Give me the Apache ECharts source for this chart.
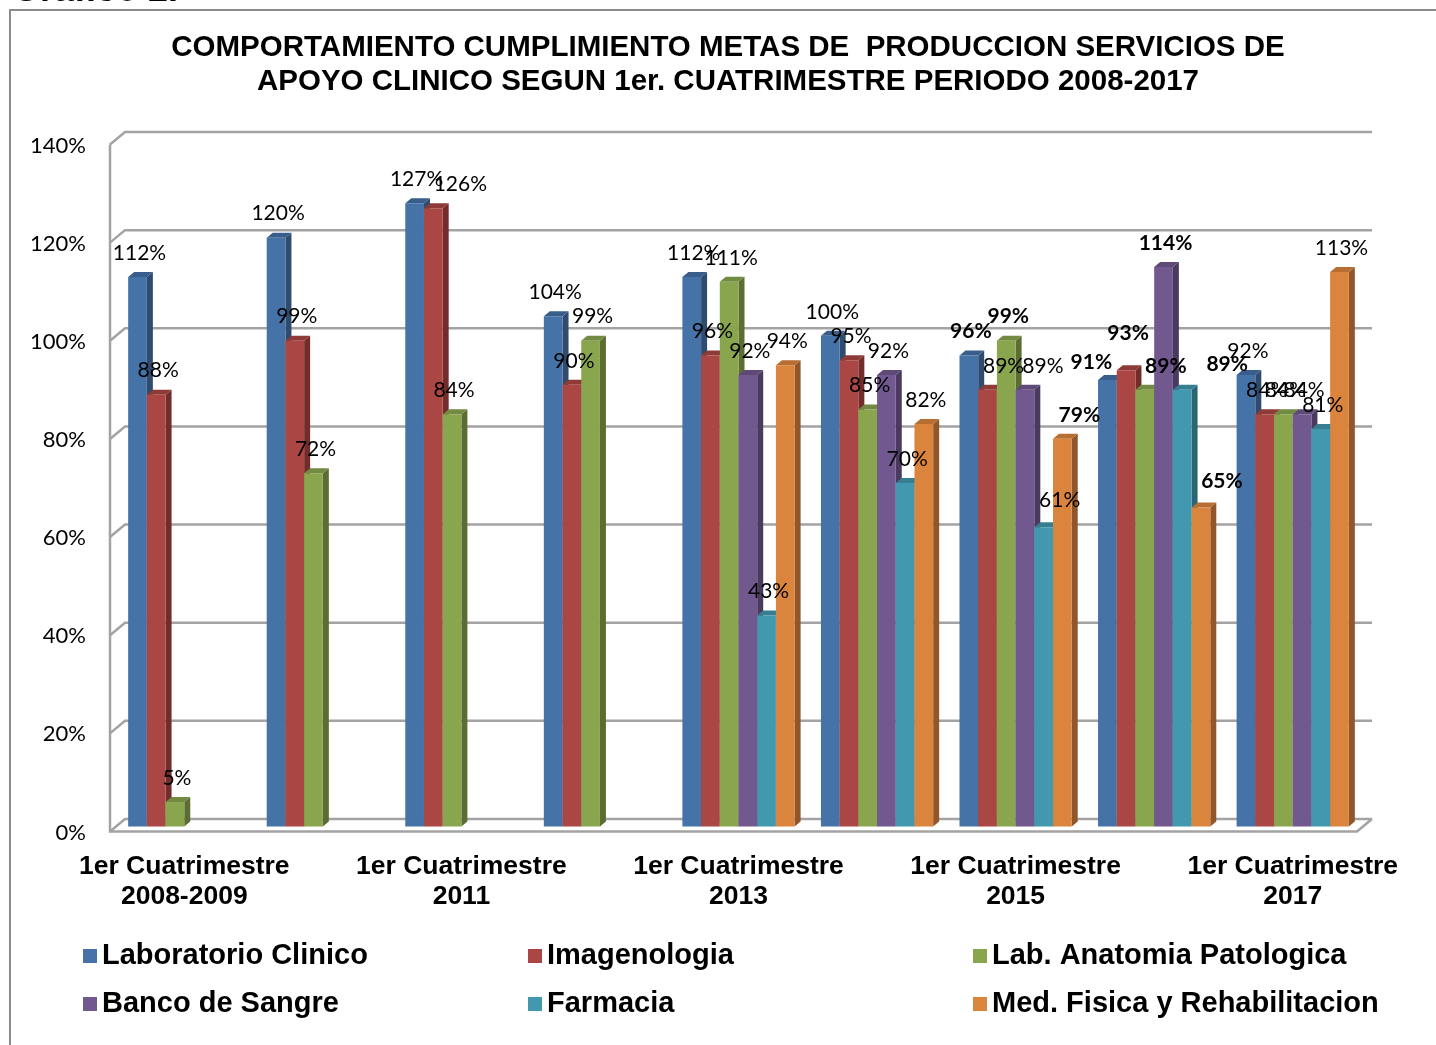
<!DOCTYPE html>
<html>
<head>
<meta charset="utf-8">
<title>Gráfico 2</title>
<script src="https://cdn.jsdelivr.net/npm/echarts@6/dist/echarts.min.js"></script>
<style>
  html, body { margin: 0; padding: 0; background: #fff; }
  #chart { width: 1436px; height: 1045px; }
</style>
</head>
<body>
<div id="chart"></div>
<script>
// datos
var categories = [
  '1er Cuatrimestre\n2008-2009', '1er Cuatrimestre\n2010', '1er Cuatrimestre\n2011',
  '1er Cuatrimestre\n2012', '1er Cuatrimestre\n2013', '1er Cuatrimestre\n2014',
  '1er Cuatrimestre\n2015', '1er Cuatrimestre\n2016', '1er Cuatrimestre\n2017'
];
var laboratorio = [112, 120, 127, 104, 112, 100, 96, 91, 92];
var imagenologia = [88, 99, 126, 90, 96, 95, 89, 93, 84];
var anatomia = [5, 72, 84, 99, 111, 85, 99, 89, 84];
var bancoSangre = [null, null, null, null, 92, 92, 89, 114, 84];
var farmacia = [null, null, null, null, 43, 70, 61, 89, 81];
var medFisica = [null, null, null, null, 94, 82, 79, 65, 113];
var yTicks = [0, 20, 40, 60, 80, 100, 120, 140];

var names = ['Laboratorio Clinico', 'Imagenologia', 'Lab. Anatomia Patologica',
  'Banco de Sangre', 'Farmacia', 'Med. Fisica y Rehabilitacion'];
var values = [laboratorio, imagenologia, anatomia, bancoSangre, farmacia, medFisica];

// colores: frente, lado, tapa
var colors = [
  { front: '#4572A7', side: '#2F4B6E', top: '#395E8B' },
  { front: '#AA4643', side: '#722D2B', top: '#8E3A37' },
  { front: '#89A54E', side: '#5B6D33', top: '#728A41' },
  { front: '#71588F', side: '#4A3A5E', top: '#5E4977' },
  { front: '#4198AF', side: '#2B6574', top: '#367F92' },
  { front: '#DB843D', side: '#91572A', top: '#B76E33' }
];

// etiquetas movidas a mano (serie-categoria): [dx, dy]
var labelNudge = {
  '1-2': [25, 0],
  '1-6': [14, 0], '3-6': [16, 0], '4-6': [14, -3], '5-6': [15, 0],
  '0-7': [-18, 6], '1-7': [0, -13], '2-7': [19, 0], '4-7': [43, -2], '5-7': [19, -2]
};
var boldLabels = ['0-6', '2-6', '5-6', '0-7', '1-7', '2-7', '3-7', '4-7', '5-7'];

var GAP = 0.19;
var DX = 6, DY = 5;

function barRenderer(si) {
  return function (params, api) {
    var ci = api.value(0), v = api.value(1);
    var base = api.coord([ci, 0]);
    var top = api.coord([ci, v]);
    var band = api.size([1, 0])[0];
    var bw = band * (1 - GAP) / 6;
    var x0 = base[0] - band * (1 - GAP) / 2 + si * bw;
    var x1 = x0 + bw;
    var y0 = base[1], y1 = top[1];
    var c = colors[si];
    var key = si + '-' + ci;
    var nudge = labelNudge[key] || [0, 0];
    var bold = boldLabels.indexOf(key) >= 0;
    return {
      type: 'group',
      children: [
        { type: 'polygon', shape: { points: [[x1, y1], [x1 + DX, y1 - DY], [x1 + DX, y0 - DY], [x1, y0]] }, style: { fill: c.side } },
        { type: 'polygon', shape: { points: [[x0, y1], [x0 + DX, y1 - DY], [x1 + DX, y1 - DY], [x1, y1]] }, style: { fill: c.top } },
        { type: 'rect', shape: { x: x0, y: y1, width: bw, height: y0 - y1 }, style: { fill: c.front } },
        {
          type: 'text', z2: 100,
          style: {
            text: v + '%', x: (x0 + x1) / 2 + 2 + nudge[0], y: y1 - 24 + nudge[1],
            align: 'center', verticalAlign: 'middle', fill: '#000',
            font: (bold ? 'bold ' : 'normal ') + '21px Lato'
          }
        }
      ]
    };
  };
}

// paredes 3D y lineas de division
function wallRenderer(params, api) {
  var t = api.value(1);
  var cs = params.coordSys;
  var y = api.coord([0, t])[1];
  var fx = cs.x - 5, bx = cs.x + 10, rx = cs.x + cs.width + 10;
  var lineStyle = { stroke: '#a3a3a3', lineWidth: 2.5, fill: null };
  var children = [
    { type: 'polyline', shape: { points: [[fx, y + 5], [bx, y - 7.5], [rx, y - 7.5]] }, style: lineStyle }
  ];
  if (t === 0) {
    var yTop = api.coord([0, yTicks[yTicks.length - 1]])[1];
    children.push({ type: 'polyline', shape: { points: [[fx, yTop + 5], [fx, y + 5], [rx - 15, y + 5], [rx, y - 7.5]] }, style: lineStyle });
  }
  return { type: 'group', children: children };
}

var series = [{
  type: 'custom',
  name: 'walls',
  z: 1,
  silent: true,
  renderItem: wallRenderer,
  encode: { x: 0, y: 1 },
  data: yTicks.map(function (t) { return [0, t]; })
}];
values.forEach(function (arr, si) {
  series.push({
    type: 'custom',
    name: names[si],
    z: 2,
    renderItem: barRenderer(si),
    itemStyle: { color: colors[si].front },
    encode: { x: 0, y: 1 },
    data: arr.map(function (v, i) { return v == null ? null : [i, v]; })
      .filter(function (d) { return d !== null; })
  });
});

var legendBase = {
  orient: 'vertical', top: 941, itemGap: 18, itemWidth: 14, itemHeight: 14,
  icon: 'rect', padding: 0, selectedMode: false,
  textStyle: { fontSize: 29, fontWeight: 'bold', fontFamily: 'Liberation Sans', color: '#000', lineHeight: 30 }
};
function legendAt(left, items) {
  return Object.assign({}, legendBase, { left: left, data: items });
}

var chart = echarts.init(document.getElementById('chart'));
chart.setOption({
  animation: false,
  backgroundColor: '#fff',
  title: {
    text: 'COMPORTAMIENTO CUMPLIMIENTO METAS DE  PRODUCCION SERVICIOS DE\nAPOYO CLINICO SEGUN 1er. CUATRIMESTRE PERIODO 2008-2017',
    left: 728, top: 31, textAlign: 'center', padding: 0,
    textStyle: { fontSize: 29.5, fontWeight: 'bold', fontFamily: 'Liberation Sans', color: '#000', lineHeight: 34 }
  },
  legend: [
    legendAt(83, [names[0], names[3]]),
    legendAt(528, [names[1], names[4]]),
    legendAt(973, [names[2], names[5]])
  ],
  grid: { left: 115, right: 74, top: 139.5, bottom: 218.5 },
  xAxis: {
    type: 'category',
    data: categories,
    axisLine: { show: false },
    axisTick: { show: false },
    axisLabel: {
      interval: 1, margin: 25, color: '#000', fontSize: 26.5, fontWeight: 'bold',
      fontFamily: 'Liberation Sans', lineHeight: 30
    }
  },
  yAxis: {
    type: 'value',
    min: 0, max: 140, interval: 20,
    axisLine: { show: false },
    axisTick: { show: false },
    splitLine: { show: false },
    axisLabel: {
      formatter: '{value}%', margin: 29, color: '#000', fontSize: 22,
      fontFamily: 'Lato', verticalAlign: 'top', lineHeight: 12
    }
  },
  graphic: [
    {
      type: 'rect', silent: true, z: 0,
      shape: { x: 10, y: 10, width: 1440, height: 1050 },
      style: { fill: null, stroke: '#8c8c8c', lineWidth: 2 }
    },
    {
      type: 'text', left: 12, top: -27,
      style: { text: 'Gráfico 2.', font: 'bold 36px "Liberation Sans"', fill: '#000' }
    }
  ],
  series: series
});
</script>
</body>
</html>
